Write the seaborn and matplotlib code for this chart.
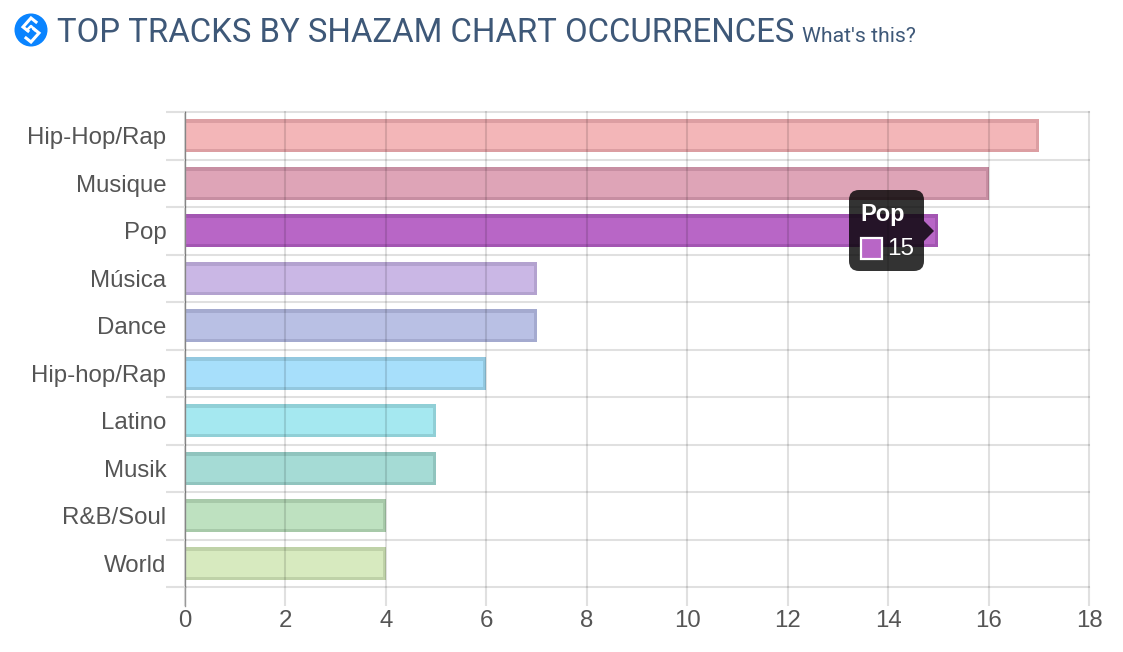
import matplotlib
matplotlib.use('Agg')
import matplotlib.pyplot as plt
import pandas as pd
import seaborn as sns
from matplotlib.patches import Circle, FancyBboxPatch, Polygon, Rectangle

# Chart values
genres = ['Hip-Hop/Rap', 'Musique', 'Pop', 'Música', 'Dance',
          'Hip-hop/Rap', 'Latino', 'Musik', 'R&B/Soul', 'World']
counts = [17, 16, 15, 7, 7, 6, 5, 5, 4, 4]
fill_colors = ['#f3b6b8', '#dea4b7', '#b866c6', '#cab7e5', '#b9c0e4',
               '#a7dffb', '#a5e8f0', '#a5dbd5', '#bee1c0', '#d7eabf']
edge_colors = ['#dc9ea2', '#c78ea2', '#a356b2', '#b3a2cf', '#a4aacf',
               '#93c8df', '#90cfd6', '#90c4be', '#a7c9a9', '#bfd2a8']
x_ticks = list(range(0, 19, 2))

W, H = 1123, 652
bar_h = 0.7
grid_alpha = 0.12
text_col = '#555555'
title_col = '#3e5878'

df = pd.DataFrame({'genre': genres, 'count': counts})

fig = plt.figure(figsize=(W / 100, H / 100), dpi=100, facecolor='white')
ax = fig.add_axes([185 / W, 1 - 587 / H, (1089 - 185) / W, (587 - 112) / H])

sns.barplot(data=df, x='count', y='genre', hue='genre', palette=fill_colors,
            legend=False, width=bar_h, linewidth=0, saturation=1, ax=ax)
ax.set_xlim(0, 18)
ax.set_ylim(9.5, -0.5)
ax.set_xlabel('')
ax.set_ylabel('')

# border on three sides only, kept inside the bar
for i, p in enumerate(ax.patches):
    x0, y0, w, h = p.get_x(), p.get_y(), p.get_width(), p.get_height()
    line, = ax.plot([x0, x0 + w, x0 + w, x0], [y0, y0, y0 + h, y0 + h],
                    color=edge_colors[i], lw=5, solid_joinstyle='miter', zorder=2.5)
    line.set_clip_path(p)

# grid over the bars, ticks carried past the plot area
ax.set_axisbelow(False)
ax.set_xticks(x_ticks)
ax.set_yticks([i - 0.5 for i in range(len(genres) + 1)], minor=True)
ax.set_yticks(range(len(genres)), labels=genres)
ax.grid(axis='x', color='black', alpha=grid_alpha, lw=1.5)
ax.grid(axis='y', which='minor', color='black', alpha=grid_alpha, lw=1.5)
ax.grid(axis='y', which='major', visible=False)
ax.tick_params(axis='y', which='major', length=0, pad=13.4, labelsize=17.3, labelcolor=text_col)
ax.tick_params(axis='y', which='minor', length=13.5, width=1.5, color='#e0e0e0')
ax.tick_params(axis='x', length=13.5, width=1.5, color='#e0e0e0', pad=3, labelsize=17.3, labelcolor=text_col)
for lab in ax.get_yticklabels() + ax.get_xticklabels():
    lab.set_fontfamily('Liberation Sans')

# outer grid lines stand in for the spines, so don't clip them
for t in ax.xaxis.get_major_ticks() + ax.yaxis.get_minor_ticks():
    t.gridline.set_clip_on(False)

for s in ['top', 'right', 'bottom']:
    ax.spines[s].set_visible(False)
ax.spines['left'].set_color('#999999')
ax.spines['left'].set_linewidth(1)

# overlay in pixel coordinates for header and tooltip
ov = fig.add_axes([0, 0, 1, 1])
ov.set_xlim(0, W)
ov.set_ylim(H, 0)
ov.axis('off')
ov.patch.set_alpha(0)

ov.plot([185, 185], [587, 606], color='#999999', lw=1)

# logo
ov.add_patch(Circle((31, 30), 16.5, color='#0a84ff', lw=0))
ov.plot([36, 31, 23, 28], [22, 18, 27, 31], color='white', lw=2.2, solid_joinstyle='miter')
ov.plot([26, 31, 39, 34], [38, 42, 33, 29], color='white', lw=2.2, solid_joinstyle='miter')
ov.plot([27, 31, 35], [30, 26, 30], color='white', lw=1.8)

ov.text(57, 33, 'TOP TRACKS BY SHAZAM CHART OCCURRENCES', family='Roboto', fontsize=23.66,
        color=title_col, va='center', ha='left')
ov.text(802, 36, "What's this?", family='Roboto', fontsize=15.3, color=title_col,
        va='center', ha='left')

# tooltip
tip = (0, 0, 0, 0.8)
ov.add_patch(FancyBboxPatch((855, 196), 63, 69, boxstyle='round,pad=6,rounding_size=10',
                            fc=tip, ec='none', zorder=5))
ov.add_patch(Polygon([(924, 221), (934, 231), (924, 241)], fc=tip, ec='none', zorder=5))
ov.text(860, 215, 'Pop', family='Liberation Sans', weight='bold', fontsize=17, color='white',
        va='center', ha='left', zorder=6)
ov.add_patch(Rectangle((861, 238), 21, 21, fc='#b866c6', ec='white', lw=1.6, zorder=6))
ov.text(887, 249, '15', family='Liberation Sans', fontsize=17.5, color='white',
        va='center', ha='left', zorder=6)

fig.savefig('out.png', dpi=100, facecolor='white')
